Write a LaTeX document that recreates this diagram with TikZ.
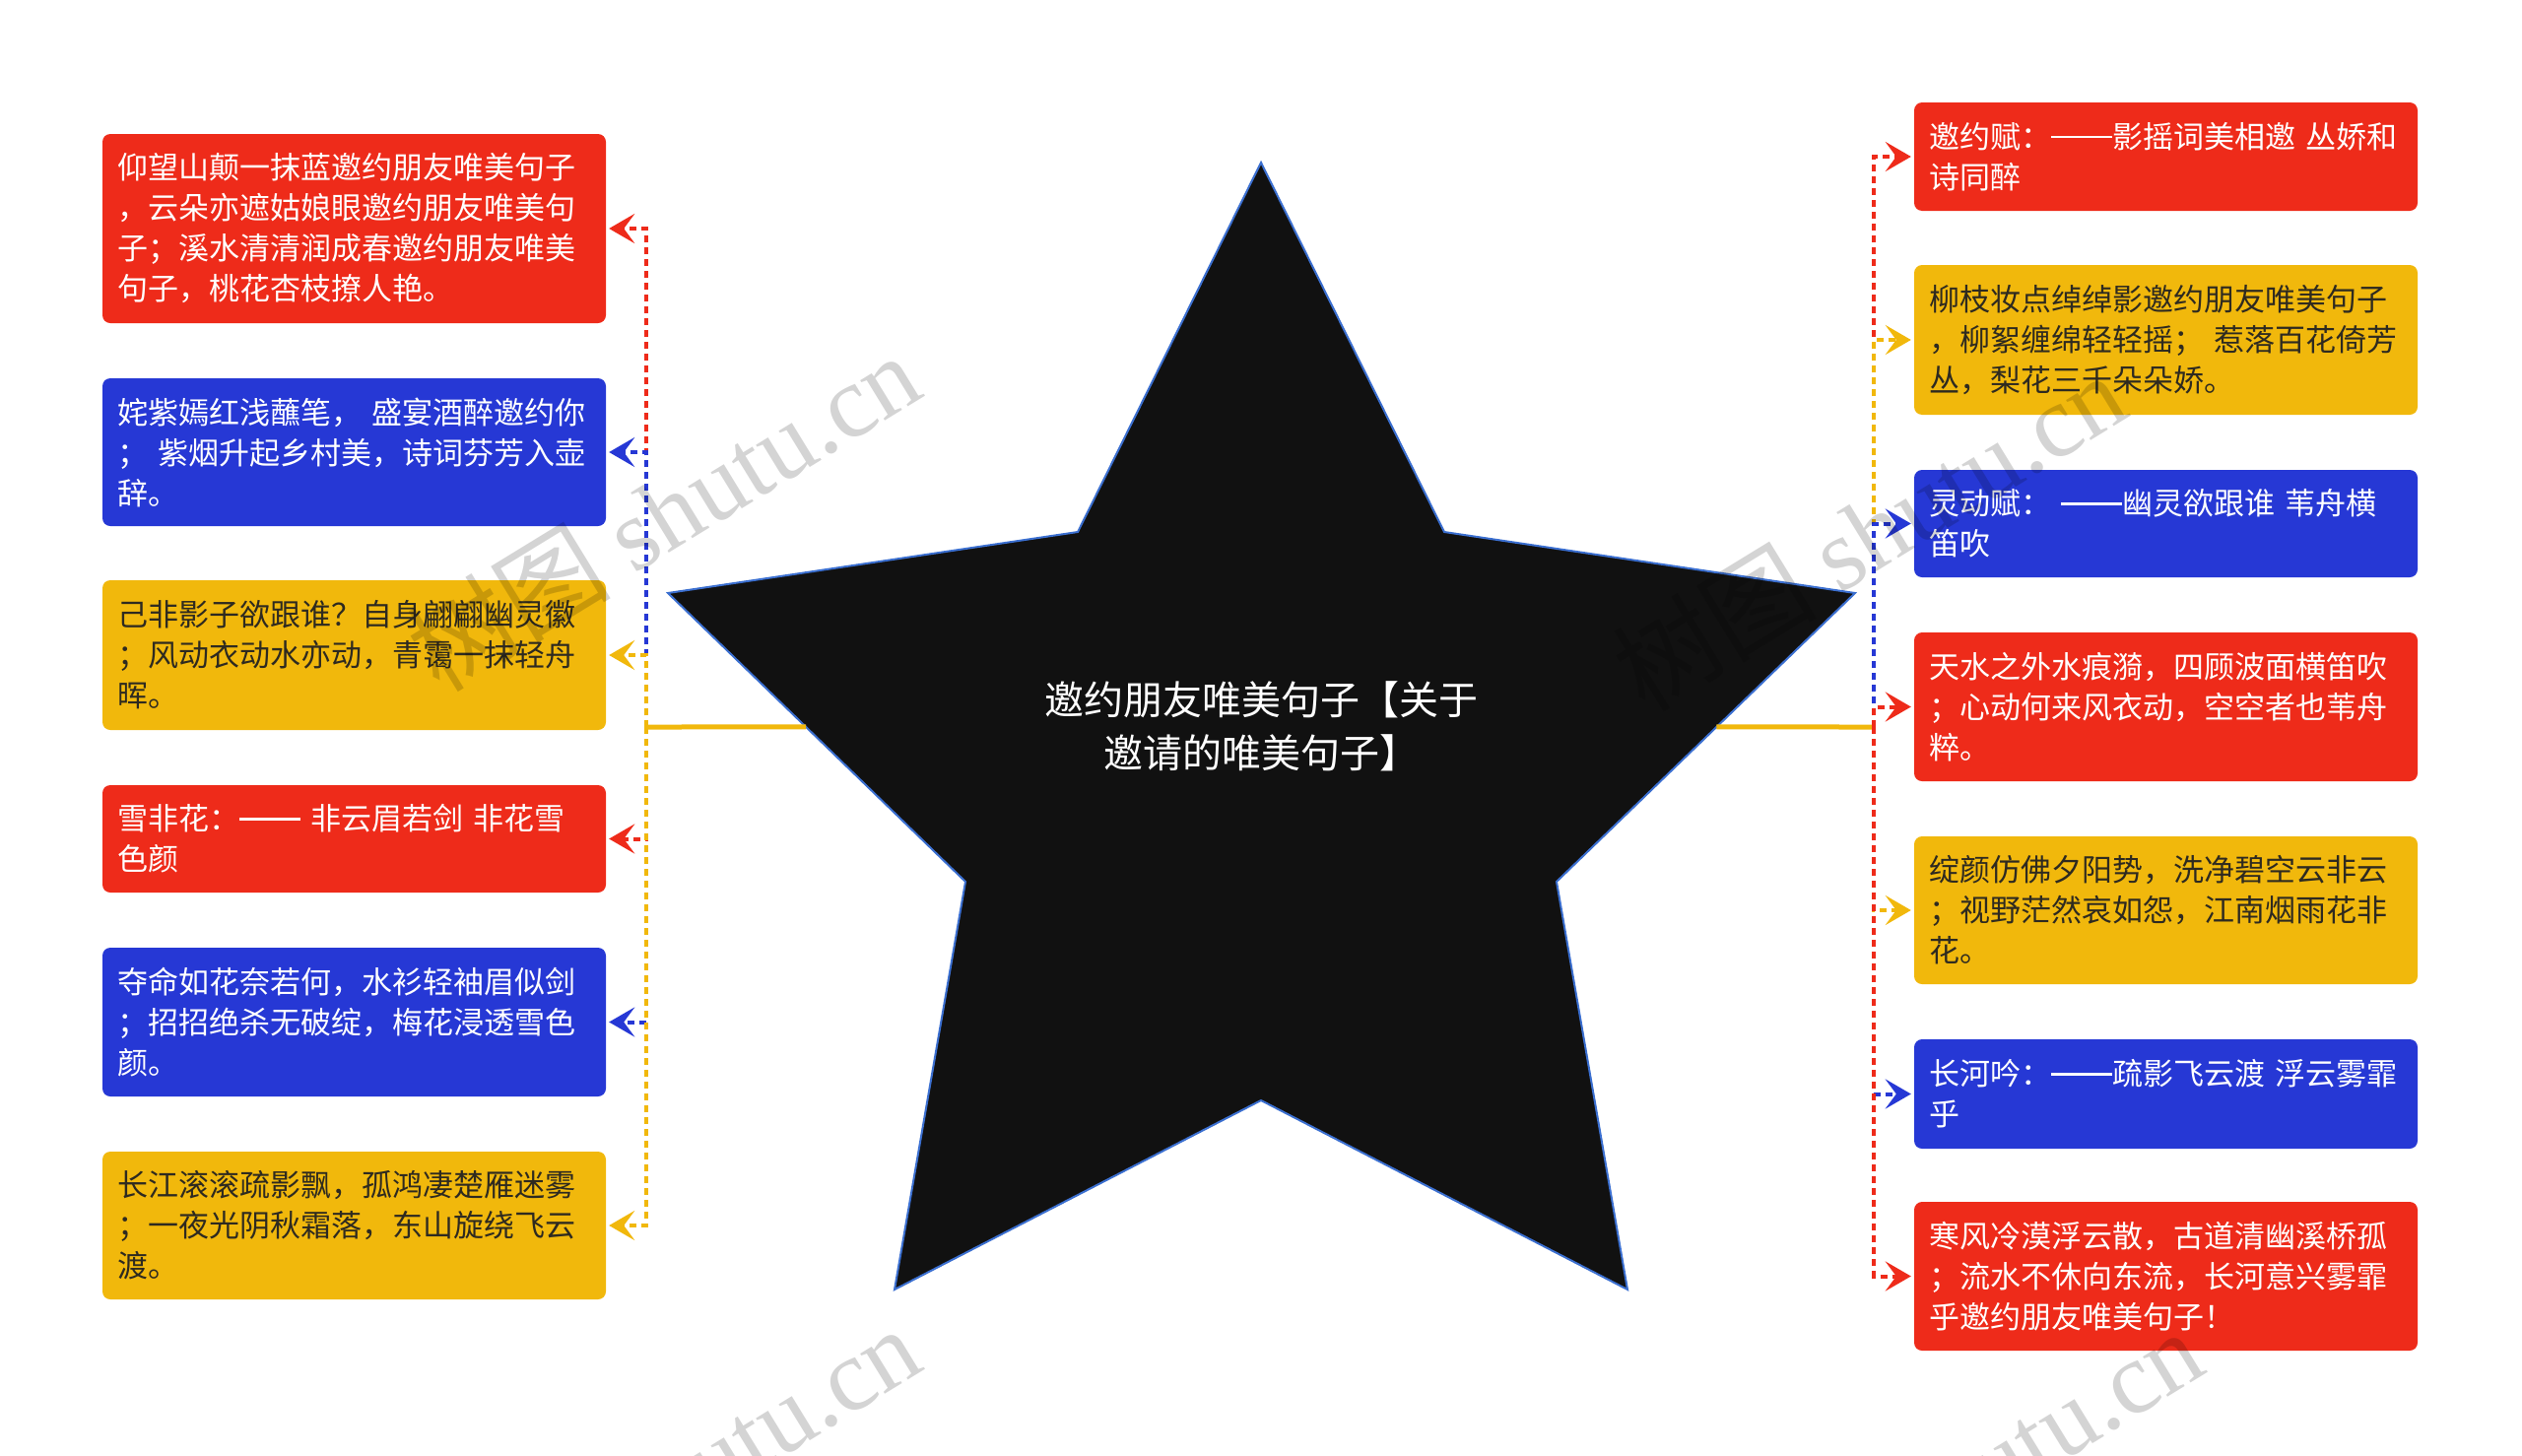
\documentclass[tikz,border=0pt]{standalone}
\usepackage{fontspec}
\setmainfont{Noto Sans CJK SC}
\newfontfamily\wmserif{Liberation Serif}
\usetikzlibrary{arrows.meta,calc}
\definecolor{cred}{HTML}{EE2B1A}
\definecolor{cblue}{HTML}{2638D5}
\definecolor{cyel}{HTML}{F1B80C}
\definecolor{cdark}{HTML}{2E2A20}
\definecolor{starfill}{HTML}{111111}
\definecolor{starline}{HTML}{3B6FD0}
\newcommand\ddash{\raisebox{0.33em}{\rule{2em}{2.4pt}}}
\tikzset{
  box/.style={rectangle, rounded corners=8pt, inner xsep=15pt, inner ysep=6pt,
    text width=481pt, align=left, minimum width=511pt,
    font=\fontsize{31}{41}\selectfont},
  redbox/.style={box, fill=cred, text=white},
  bluebox/.style={box, fill=cblue, text=white},
  yelbox/.style={box, fill=cyel, text=cdark},
  conn/.style={line width=4pt, dash pattern=on 7pt off 5pt,
    -{Stealth[length=26pt,width=30pt,inset=11pt]}, shorten >=3pt},
  trunk/.style={line width=5pt, cyel},
  wm/.style={text=black, opacity=0.17, rotate=31.5, font=\fontsize{104}{104}\selectfont}
}
\begin{document}
\begin{tikzpicture}[x=1pt,y=-1pt]
\useasboundingbox (0,0) rectangle (2560,1478);

% star
\coordinate (T) at (1280,165);
\coordinate (UR) at (1466,540);
\coordinate (R) at (1883,602);
\coordinate (RL) at (1580,895);
\coordinate (BR) at (1652,1309);
\coordinate (B) at (1280,1117);
\coordinate (BL) at (908,1309);
\coordinate (LL) at (980,895);
\coordinate (L) at (678,602);
\coordinate (UL) at (1094,540);
\filldraw[fill=starfill, draw=starline, line width=2pt, line join=miter]
  (T) -- (UR) -- (R) -- (RL) -- (BR) -- (B) -- (BL) -- (LL) -- (L) -- (UL) -- cycle;
\node[text=white, align=center, font=\fontsize{40}{54}\selectfont] (C) at (1280,737)
  {邀约朋友唯美句子【关于\\邀请的唯美句子】};

% junctions
\coordinate (SL) at ($(L)!0.464!(LL)$);
\coordinate (SR) at ($(R)!0.464!(RL)$);
\coordinate (JL) at (656,738);
\coordinate (JR) at (1902,738);

% left boxes
\node[redbox, minimum height=192pt] (L1) at (359.5,232)
  {仰望山颠一抹蓝邀约朋友唯美句子\\，云朵亦遮姑娘眼邀约朋友唯美句\\子；溪水清清润成春邀约朋友唯美\\句子，桃花杏枝撩人艳。};
\node[bluebox, minimum height=150pt] (L2) at (359.5,459)
  {姹紫嫣红浅蘸笔， 盛宴酒醉邀约你\\； 紫烟升起乡村美，诗词芬芳入壶\\辞。};
\node[yelbox, minimum height=152pt] (L3) at (359.5,665)
  {己非影子欲跟谁？自身翩翩幽灵徽\\；风动衣动水亦动，青霭一抹轻舟\\晖。};
\node[redbox, minimum height=109pt] (L4) at (359.5,851.5)
  {雪非花：\ddash{} 非云眉若剑 非花雪\\色颜};
\node[bluebox, minimum height=151pt] (L5) at (359.5,1037.5)
  {夺命如花奈若何，水衫轻袖眉似剑\\；招招绝杀无破绽，梅花浸透雪色\\颜。};
\node[yelbox, minimum height=150pt] (L6) at (359.5,1244)
  {长江滚滚疏影飘，孤鸿凄楚雁迷雾\\；一夜光阴秋霜落，东山旋绕飞云\\渡。};

% right boxes
\node[redbox, minimum height=110pt] (R1) at (2198.5,159)
  {邀约赋：\ddash 影摇词美相邀 丛娇和\\诗同醉};
\node[yelbox, minimum height=152pt] (R2) at (2198.5,345)
  {柳枝妆点绰绰影邀约朋友唯美句子\\，柳絮缠绵轻轻摇； 惹落百花倚芳\\丛，梨花三千朵朵娇。};
\node[bluebox, minimum height=109pt] (R3) at (2198.5,531.5)
  {灵动赋： \ddash 幽灵欲跟谁 苇舟横\\笛吹};
\node[redbox, minimum height=151pt] (R4) at (2198.5,717.5)
  {天水之外水痕漪，四顾波面横笛吹\\；心动何来风衣动，空空者也苇舟\\粹。};
\node[yelbox, minimum height=150pt] (R5) at (2198.5,924)
  {绽颜仿佛夕阳势，洗净碧空云非云\\；视野茫然哀如怨，江南烟雨花非\\花。};
\node[bluebox, minimum height=111pt] (R6) at (2198.5,1110.5)
  {长河吟：\ddash 疏影飞云渡 浮云雾霏\\乎};
\node[redbox, minimum height=151pt] (R7) at (2198.5,1295.5)
  {寒风冷漠浮云散，古道清幽溪桥孤\\；流水不休向东流，长河意兴雾霏\\乎邀约朋友唯美句子！};

% trunks
\draw[trunk] (SL) -- (JL);
\draw[trunk] (SR) -- (JR);

% left connectors
\draw[conn, cred] (JL) |- (L1.east);
\draw[conn, cblue] (JL) |- (L2.east);
\draw[conn, cyel] (JL) |- (L3.east);
\draw[conn, cred] (JL) |- (L4.east);
\draw[conn, cblue] (JL) |- (L5.east);
\draw[conn, cyel] (JL) |- (L6.east);

% right connectors
\draw[conn, cred] (JR) |- (R1.west);
\draw[conn, cyel] (JR) |- (R2.west);
\draw[conn, cblue] (JR) |- (R3.west);
\draw[conn, cyel] (JR) |- (R5.west);
\draw[conn, cblue] (JR) |- (R6.west);
\draw[conn, cred] (JR) |- (R7.west);
\draw[conn, cred] (JR) |- (R4.west);

% watermarks
\begin{scope}
\clip (0,0) rectangle (2560,1478);
\node[wm] (wm1) at (673,519) {树图 {\wmserif shutu.cn}};
\node[wm] (wm2) at (1897,539) {树图 {\wmserif shutu.cn}};
\node[wm] (wm3) at (673,1507) {树图 {\wmserif shutu.cn}};
\node[wm] (wm4) at (1975,1510) {树图 {\wmserif shutu.cn}};
\end{scope}
\end{tikzpicture}
\end{document}
